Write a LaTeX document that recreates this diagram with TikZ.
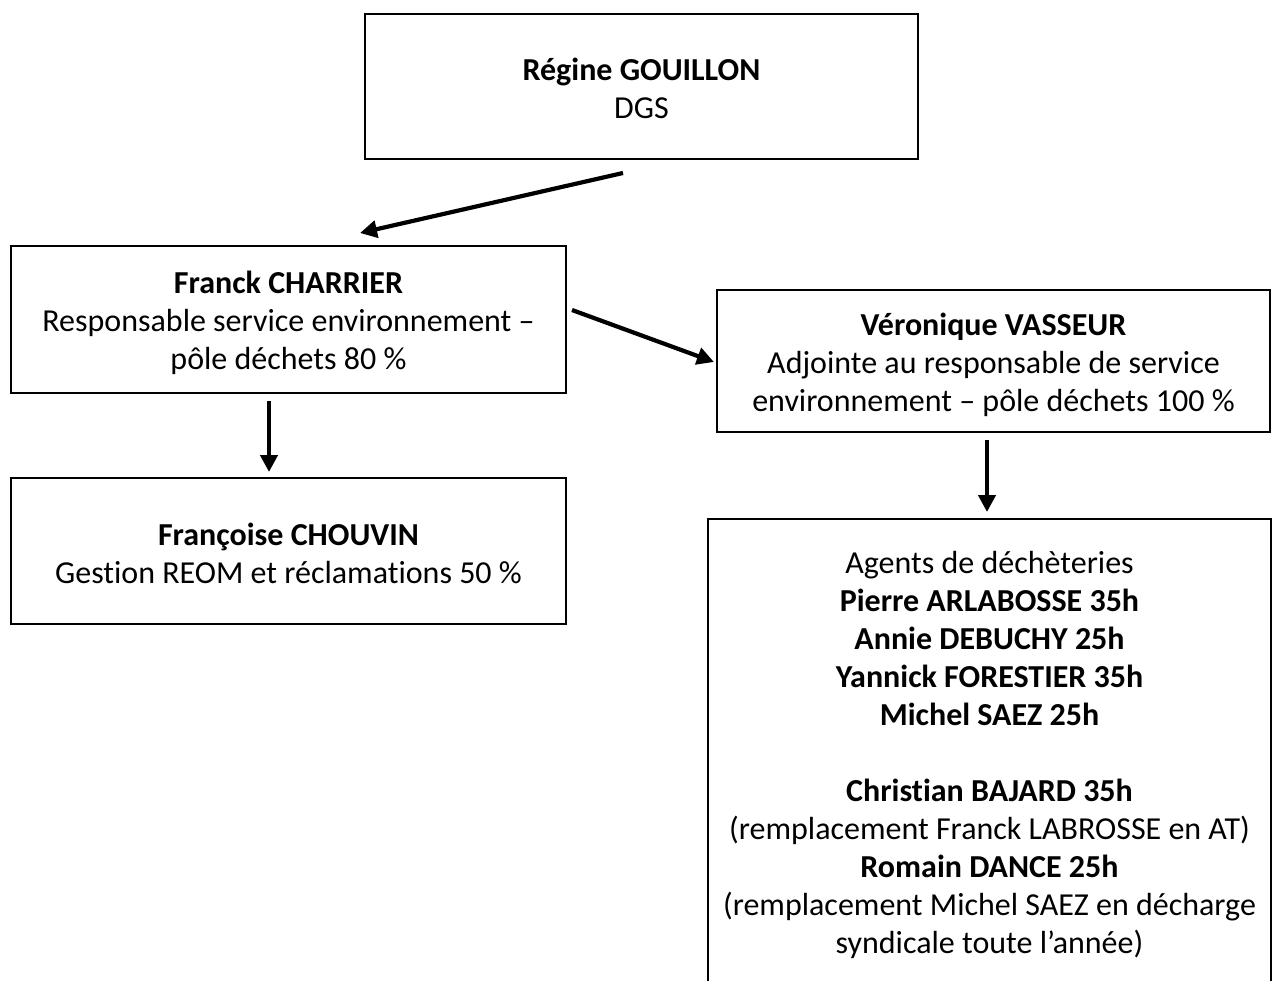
\documentclass[tikz,border=0pt]{standalone}
\usepackage{fontspec}
\setmainfont{Carlito}[Ligatures=NoCommon]
\usetikzlibrary{arrows.meta}
\newcommand\topgap[2]{\raisebox{0pt}[\dimexpr\height+#1\relax]{#2}}
\begin{document}
\begin{tikzpicture}[x=1pt,y=-1pt,
  box/.style={draw=black, line width=2pt, inner sep=0pt, align=center,
    font=\fontsize{32}{38}\selectfont},
  link/.style={line width=4.2pt, -{Triangle[length=17pt,width=17pt]}}]
\useasboundingbox (0,0) rectangle (1272,981);
\node[box, minimum width=553pt, minimum height=145pt] (dgs) at (641.5,86.5)
  {\topgap{4pt}{\textbf{Régine GOUILLON}}\\DGS};
\node[box, minimum width=555pt, minimum height=147pt] (franck) at (288.5,319.5)
  {\topgap{7pt}{\textbf{Franck CHARRIER}}\\Responsable service environnement –\\pôle déchets 80 \%};
\node[box, minimum width=553pt, minimum height=142pt] (vero) at (993.5,361)
  {\topgap{7pt}{\textbf{Véronique VASSEUR}}\\Adjointe au responsable de service\\environnement – pôle déchets 100 \%};
\node[box, minimum width=555pt, minimum height=146pt] (franc) at (288.5,551)
  {\topgap{4pt}{\textbf{Françoise CHOUVIN}}\\Gestion REOM et réclamations 50 \%};
\node[box, minimum width=563pt, minimum height=466pt] (agents) at (989.5,752)
  {\topgap{6pt}{Agents de déchèteries}\\
   \textbf{Pierre ARLABOSSE 35h}\\
   \textbf{Annie DEBUCHY 25h}\\
   \textbf{Yannick FORESTIER 35h}\\
   \textbf{Michel SAEZ 25h}\\
   \mbox{}\\
   \textbf{Christian BAJARD 35h}\\
   (remplacement Franck LABROSSE en AT)\\
   \textbf{Romain DANCE 25h}\\
   (remplacement Michel SAEZ en décharge\\
   syndicale toute l’année)};
\draw[link] ([xshift=-18.5pt,yshift=-13pt]dgs.south) -- ([xshift=71.5pt,yshift=12pt]franck.north);
\draw[link] ([xshift=5pt,yshift=9.5pt]franck.east) -- ([xshift=-2pt,yshift=-1pt]vero.west);
\draw[link] ([xshift=-19.5pt,yshift=-7pt]franck.south) -- ([xshift=-19.5pt,yshift=5pt]franc.north);
\draw[link] ([xshift=-6.5pt,yshift=-7pt]vero.south) -- ([xshift=-2.5pt,yshift=6pt]agents.north);
\end{tikzpicture}
\end{document}
